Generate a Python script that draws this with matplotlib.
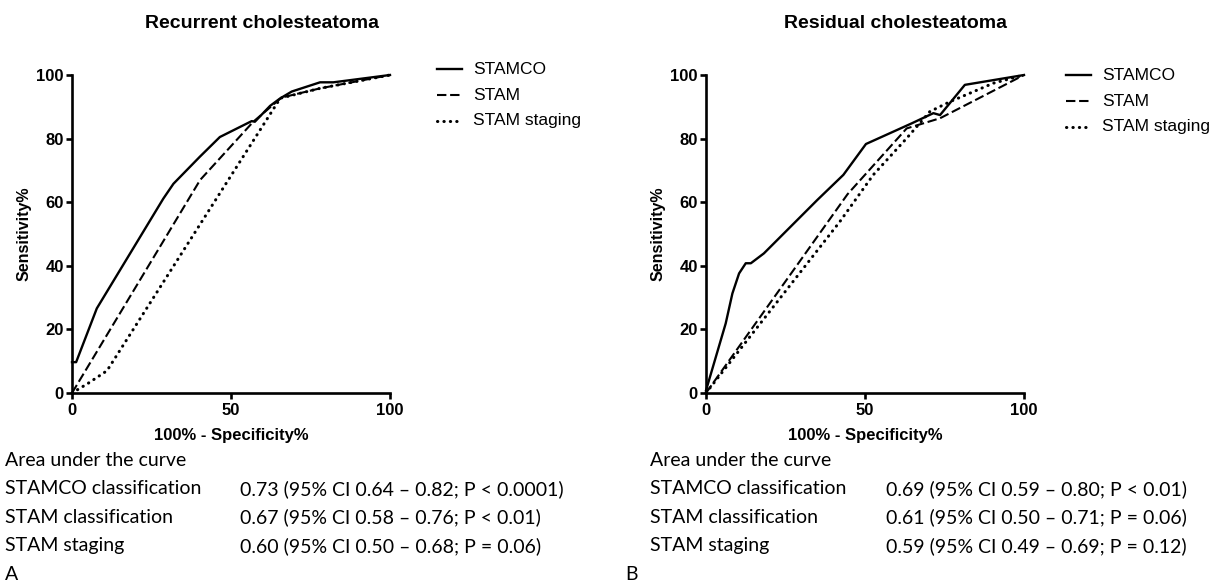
import numpy as np
import matplotlib.pyplot as plt

# ROC curves (x = 100% - specificity, y = sensitivity)
# A - recurrent cholesteatoma
rec_stamco_x = [0, 1.3, 7.8, 28.7, 31.9, 40.2, 46.5, 56.5, 57.5, 62.3, 65.4, 69.1, 78.0, 82.2, 100]
rec_stamco_y = [9.7, 9.7, 26.6, 61.1, 65.8, 74.3, 80.5, 85.5, 85.3, 90.3, 92.6, 94.8, 97.7, 97.7, 100]
rec_stam_x = [0, 40.3, 57.0, 65.9, 78.0, 100]
rec_stam_y = [0, 67.0, 85.3, 92.9, 95.8, 100]
rec_stag_x = [0, 5.0, 11.0, 65.5, 78.0, 100]
rec_stag_y = [0, 3.0, 7.0, 92.7, 95.8, 100]

# B - residual cholesteatoma
res_stamco_x = [0, 6.2, 8.3, 10.4, 12.5, 14.1, 18.2, 35.0, 43.2, 50.3, 64.7, 71.5, 73.6, 81.4, 100]
res_stamco_y = [0.8, 21.9, 31.3, 37.6, 40.8, 40.8, 43.9, 60.7, 68.6, 78.3, 84.8, 88.0, 87.4, 96.9, 100]
res_stam_x = [0, 44.5, 63.1, 73.6, 100]
res_stam_y = [0, 62.5, 83.2, 86.4, 100]
res_stag_x = [0, 42.1, 52.6, 63.1, 70.4, 76.7, 90.3, 100]
res_stag_y = [0, 53.9, 68.6, 80.1, 88.5, 91.6, 97.4, 100]

titles = ['Recurrent cholesteatoma', 'Residual cholesteatoma']
series_names = ['STAMCO', 'STAM', 'STAM staging']
row_labels = ['STAMCO classification', 'STAM classification', 'STAM staging']
auc_text = [
    ['0.73 (95% CI 0.64 \u2013 0.82; P < 0.0001)',
     '0.67 (95% CI 0.58 \u2013 0.76; P < 0.01)',
     '0.60 (95% CI 0.50 \u2013 0.68; P = 0.06)'],
    ['0.69 (95% CI 0.59 \u2013 0.80; P < 0.01)',
     '0.61 (95% CI 0.50 \u2013 0.71; P = 0.06)',
     '0.59 (95% CI 0.49 \u2013 0.69; P = 0.12)'],
]
panel_letters = ['A', 'B']

curves = [
    [(rec_stamco_x, rec_stamco_y), (rec_stam_x, rec_stam_y), (rec_stag_x, rec_stag_y)],
    [(res_stamco_x, res_stamco_y), (res_stam_x, res_stam_y), (res_stag_x, res_stag_y)],
]

W, H = 1229, 585
fig = plt.figure(figsize=(W / 100, H / 100), dpi=100)

axfont = ['Liberation Sans', 'DejaVu Sans']
bodyfont = ['Lato', 'DejaVu Sans']

ax_left_px = [72, 706]
legend_px = [(437, 69), (1066, 75)]
body_px = [(5, 240), (650, 886)]
letter_px = [5, 625]

# overlay axes in pixel coordinates for text and legends
lax = fig.add_axes([0, 0, 1, 1], facecolor='none')
lax.set_xlim(0, W)
lax.set_ylim(H, 0)
lax.axis('off')

for i in range(2):
    ax = fig.add_axes([ax_left_px[i] / W, (H - 393) / H, 318 / W, 318 / H])
    styles = [dict(ls='-', lw=1.7),
              dict(ls=(0, (4.5, 1.8)), lw=1.5),
              dict(ls=(0, (0.1, 2.0)), lw=2.2, dash_capstyle='round')]
    for (x, y), st, name in zip(curves[i], styles, series_names):
        ax.plot(x, y, color='black', label=name, clip_on=False, **st)
    ax.set_xlim(0, 100)
    ax.set_ylim(0, 100)
    ax.set_xticks([0, 50, 100])
    ax.set_yticks([0, 20, 40, 60, 80, 100])
    for s in ['top', 'right']:
        ax.spines[s].set_visible(False)
    for s in ['left', 'bottom']:
        ax.spines[s].set_linewidth(1.9)
    ax.tick_params(width=1.9, length=4.5, direction='out')
    ax.tick_params(axis='x', pad=3)
    ax.tick_params(axis='y', pad=1.5)
    for lab in ax.get_xticklabels() + ax.get_yticklabels():
        lab.set_fontfamily(axfont)
        lab.set_fontweight('bold')
        lab.set_fontsize(12)
    ax.set_xlabel('100% - Specificity%', fontfamily=axfont, fontweight='bold', fontsize=12, labelpad=7)
    ax.set_ylabel('Sensitivity%', fontfamily=axfont, fontweight='bold', fontsize=11.5, labelpad=3)

    # title
    lax.text(ax_left_px[i] + 190, 23, titles[i], ha='center', va='center', fontfamily=axfont,
             fontweight='bold', fontsize=14)

    # legend drawn by hand
    lx, ly = legend_px[i]
    for k, (st, name) in enumerate(zip(styles, series_names)):
        yy = ly + k * 26
        lax.plot([lx, lx + 25], [yy, yy], color='black', **st)
        lax.text(lx + 36, yy, name, va='center', ha='left', fontfamily=axfont, fontsize=12.5)

    # AUC text block
    tx, vx = body_px[i]
    lax.text(tx, 461, 'Area under the curve', va='center', ha='left', fontfamily=bodyfont, fontsize=14)
    for k in range(3):
        yy = 489 + k * 28.5
        lax.text(tx, yy, row_labels[k], va='center', ha='left', fontfamily=bodyfont, fontsize=14)
        lax.text(vx, yy, auc_text[i][k], va='center', ha='left', fontfamily=bodyfont, fontsize=14)
    lax.text(letter_px[i], 574, panel_letters[i], va='center', ha='left', fontfamily=bodyfont, fontsize=14)

fig.savefig('out.png', dpi=100, facecolor='white')
